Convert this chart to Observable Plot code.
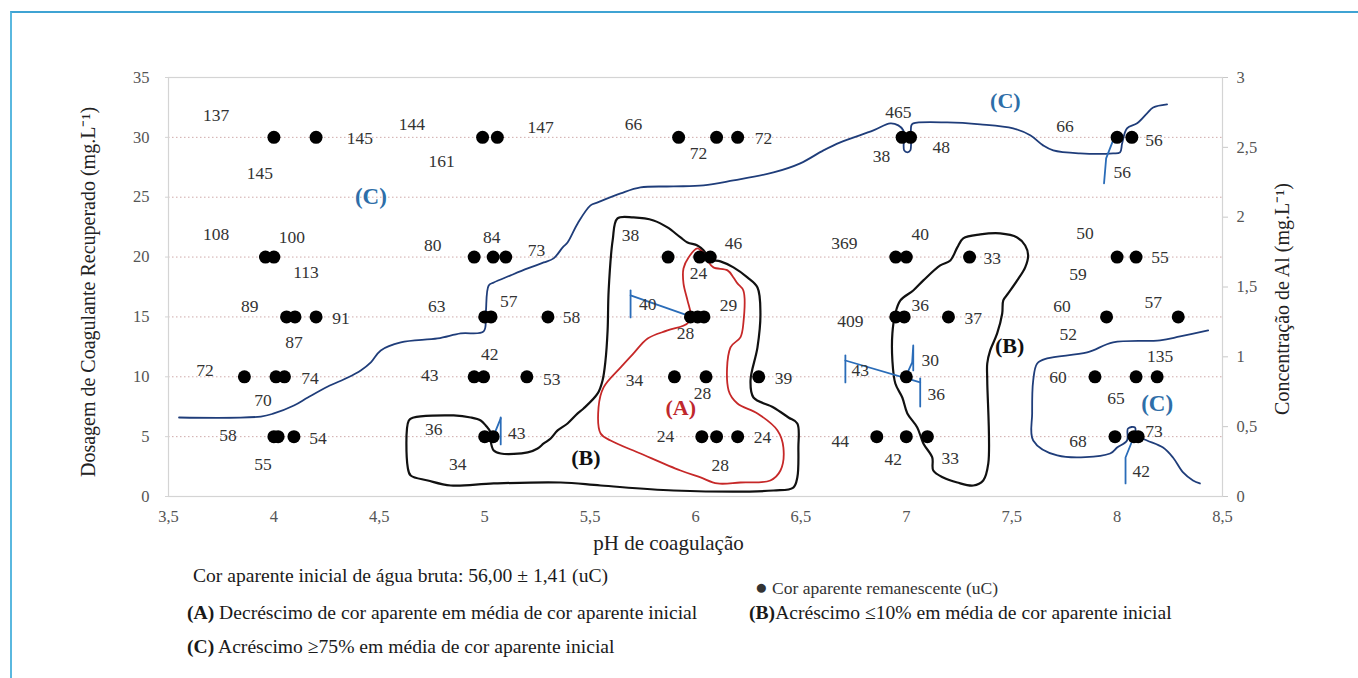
<!DOCTYPE html>
<html>
<head>
<meta charset="utf-8">
<script src="https://cdn.jsdelivr.net/npm/d3@7"></script>
<script src="https://cdn.jsdelivr.net/npm/@observablehq/plot@0.6"></script>
<style>
  html, body { margin: 0; padding: 0; background: #fff; }
  #page { position: relative; width: 1358px; height: 678px; overflow: hidden; font-family: "Liberation Serif", "DejaVu Serif", serif; }
  #box { position: absolute; left: 10px; top: 11px; width: 1400px; height: 700px; border-left: 2px solid #5ab8df; border-top: 2px solid #3fa3d3; }
  #chart { position: absolute; left: 0; top: 0; }
  .note { position: absolute; color: #1a1a1a; white-space: nowrap; font-size: 19.6px; }
  .note b { font-weight: bold; }
</style>
</head>
<body>
<div id="page">
  <div id="box"></div>
  <div id="chart"></div>
  <div class="note" style="left:193px; top:565px;">Cor aparente inicial de água bruta: 56,00 ± 1,41 (uC)</div>
  <div class="note" style="left:755px; top:575px; font-size:17.5px; color:#333;"><span style="font-size:21px;">●</span> Cor aparente remanescente (uC)</div>
  <div class="note" style="left:187px; top:602px;"><b>(A)</b> Decréscimo de cor aparente em média de cor aparente inicial</div>
  <div class="note" style="left:749px; top:602px;"><b>(B)</b>Acréscimo ≤10% em média de cor aparente inicial</div>
  <div class="note" style="left:187px; top:636px;"><b>(C)</b> Acréscimo ≥75% em média de cor aparente inicial</div>
</div>
<script>
// pH positions of the measured points, one list per coagulant dose (mg/L)
const phAtDose5  = [4.0, 4.02, 4.095, 5.0, 5.04, 6.03, 6.1, 6.2, 6.86, 7.0, 7.1, 7.99, 8.08, 8.1];
const phAtDose10 = [3.86, 4.01, 4.05, 4.95, 4.995, 5.2, 5.9, 6.05, 6.3, 7.0, 7.895, 8.09, 8.19];
const phAtDose15 = [4.06, 4.1, 4.2, 5.0, 5.03, 5.3, 5.976, 6.01, 6.04, 6.95, 6.99, 7.2, 7.95, 8.29];
const phAtDose20 = [3.96, 4.0, 4.95, 5.04, 5.1, 5.87, 6.02, 6.07, 6.95, 7.0, 7.3, 8.0, 8.09];
const phAtDose30 = [4.0, 4.2, 4.99, 5.06, 5.92, 6.1, 6.2, 6.98, 7.02, 8.0, 8.07];

// Remaining apparent colour (uC) annotations: value, pH, dose
const colourValues = ["137","145","145","144","147","161","66","72","72","465","38","48","66","56","56",
  "108","100","113","80","84","73","38","46","24","369","40","33","50","55","59",
  "89","91","87","63","57","58","40","29","28","409","36","37","60","57","52",
  "72","74","70","43","42","53","34","28","39","43","30","36","60","135","65",
  "58","54","55","36","43","34","24","24","28","44","42","33","68","73","42"];
const colourPH = [3.726,4.408,3.934,4.654,5.265,4.796,5.706,6.014,6.322,6.962,6.882,7.166,7.753,8.175,8.024,
  3.726,4.085,4.152,4.754,5.033,5.246,5.692,6.18,6.014,6.706,7.066,7.408,7.848,8.204,7.815,
  3.886,4.318,4.095,4.773,5.114,5.412,5.773,6.156,5.953,6.735,7.066,7.318,7.739,8.171,7.768,
  3.673,4.171,3.948,4.739,5.024,5.318,5.711,6.033,6.417,6.782,7.114,7.142,7.72,8.204,7.995,
  3.782,4.209,3.948,4.758,5.152,4.872,5.858,6.318,6.118,6.687,6.938,7.209,7.815,8.175,8.114];
const colourDose = [31.84,29.92,26.99,31.08,30.83,27.99,31.08,28.66,29.92,32.09,28.41,29.16,30.92,29.75,27.07,
  21.89,21.64,18.72,20.97,21.64,20.56,21.81,21.14,18.63,21.14,21.89,19.89,21.98,19.97,18.55,
  15.88,14.87,12.87,15.88,16.29,14.96,16.04,15.96,13.62,14.62,15.96,14.87,15.88,16.21,13.54,
  10.53,9.86,8.02,10.11,11.87,9.78,9.69,8.61,9.86,10.53,11.36,8.52,9.94,11.7,8.19,
  5.1,4.85,2.67,5.6,5.26,2.67,5.01,4.93,2.59,4.6,3.09,3.18,4.6,5.43,2.09];

// Region outlines as [pH, dose] vertices
const regionA = [[6.009,20.72],[5.967,19.97],[5.943,19.05],[5.943,17.8],[5.962,16.38],[5.976,15.29],[5.962,14.46],
  [5.867,13.87],[5.773,13.2],[5.706,11.95],[5.645,10.78],[5.564,9.11],[5.54,7.44],[5.55,5.26],[5.597,4.68],
  [5.739,3.59],[5.929,2.17],[6.024,1.59],[6.104,1.09],[6.213,1.17],[6.355,1.34],[6.403,2.17],[6.417,4.09],
  [6.389,5.52],[6.294,6.94],[6.199,7.77],[6.157,8.86],[6.166,12.45],[6.213,13.29],[6.227,14.46],[6.227,17.21],
  [6.199,17.8],[6.18,18.3],[6.152,18.89],[6.085,19.14],[6.057,19.72],[6.038,20.31]];
const regionB1 = [[4.663,6.6],[4.853,6.77],[4.934,6.6],[4.981,6.35],[5.005,5.93],[5.028,5.35],[5.028,4.68],
  [5.043,3.84],[5.076,3.59],[5.204,3.68],[5.251,4.01],[5.28,4.43],[5.313,4.85],[5.346,5.52],[5.393,6.1],
  [5.441,6.94],[5.469,7.35],[5.536,8.61],[5.559,9.69],[5.573,11.36],[5.583,13.87],[5.588,17.21],[5.607,21.39],
  [5.63,23.23],[5.706,23.31],[5.801,23.06],[5.867,22.48],[5.929,21.64],[5.962,21.22],[6.009,20.97],[6.038,20.56],
  [6.071,19.8],[6.118,19.64],[6.18,19.14],[6.246,18.3],[6.294,17.46],[6.308,15.29],[6.294,12.45],[6.261,9.69],
  [6.275,8.27],[6.37,7.44],[6.441,6.6],[6.483,6.1],[6.488,4.09],[6.483,1.59],[6.464,0.75],[6.37,0.5],
  [5.896,0.5],[5.55,0.92],[5.36,1.17],[5.043,1.09],[4.839,0.92],[4.73,1.34],[4.649,1.75],[4.635,2.42],[4.64,6.35]];
const regionB2 = [[7.27,21.56],[7.351,21.89],[7.445,21.98],[7.526,21.64],[7.564,20.97],[7.578,20.14],[7.564,19.14],
  [7.526,18.05],[7.483,16.96],[7.46,16.38],[7.455,15.29],[7.431,13.62],[7.398,12.2],[7.384,11.11],[7.384,9.69],
  [7.389,2.76],[7.365,1.34],[7.318,0.92],[7.242,1.17],[7.175,1.59],[7.128,2.17],[7.123,3.26],[7.081,4.43],
  [7.052,5.77],[7.005,6.94],[6.981,8.27],[6.948,9.44],[6.934,11.36],[6.934,13.62],[6.948,15.29],[6.972,16.38],
  [7.033,17.21],[7.081,18.05],[7.161,19.3],[7.209,19.72],[7.242,20.81]];
const boundaryC1 = [[3.55,6.6],[3.938,6.68],[4.0,6.94],[4.095,7.6],[4.161,8.27],[4.256,9.19],[4.351,9.94],[4.412,10.53],
  [4.46,11.2],[4.507,12.2],[4.602,12.87],[4.777,13.2],[4.886,13.62],[4.995,13.79],[5.005,15.29],[5.019,17.63],
  [5.043,17.88],[5.123,18.47],[5.204,19.05],[5.28,19.55],[5.327,19.89],[5.37,20.81],[5.393,21.22],[5.441,22.81],
  [5.502,24.32],[5.536,24.57],[5.645,25.32],[5.739,25.82],[5.896,25.9],[6.038,25.99],[6.18,26.41],[6.37,27.07],
  [6.497,27.83],[6.607,28.91],[6.687,29.58],[6.844,30.58],[6.924,31.17],[6.962,31.0],[6.986,30.58],[6.99,28.91],
  [7.005,28.75],[7.019,28.91],[7.024,31.0],[7.033,31.17],[7.194,31.25],[7.351,31.09],[7.507,30.75],[7.588,30.17],
  [7.649,29.33],[7.697,28.91],[7.824,28.66],[7.981,28.66],[8.014,28.75],[8.024,29.5],[8.047,30.75],[8.095,31.17],
  [8.142,32.0],[8.171,32.5],[8.237,32.76]];
const boundaryC2 = [[8.432,13.87],[8.299,13.37],[8.204,13.04],[7.981,12.87],[7.858,12.03],[7.668,11.53],[7.621,11.11],
  [7.602,9.69],[7.597,6.94],[7.602,4.68],[7.716,3.43],[7.967,3.59],[8.0,4.09],[8.047,4.68],[8.052,5.68],[8.085,5.77],
  [8.09,5.1],[8.142,4.68],[8.218,4.09],[8.265,3.26],[8.313,2.01],[8.36,1.34],[8.393,1.09]];
// Short pointer strokes
const pointers = [
  [[7.938,26.16],[7.948,28.24],[7.981,29.75],[8.0,30.17]],
  [[8.04,1.09],[8.04,3.26],[8.078,4.93]],
  [[5.692,17.21],[5.692,14.96]],
  [[5.692,16.8],[5.976,15.04]],
  [[6.711,11.78],[6.711,9.53]],
  [[6.711,11.36],[7.066,9.53]],
  [[7.066,9.86],[7.066,7.52]],
  [[6.995,9.94],[7.028,11.2],[7.033,12.62],[7.033,10.53]],
  [[5.043,5.1],[5.076,6.52]],
  [[5.076,6.6],[5.076,4.35]]
];

// Axis ticks
const phTicks = [3.5, 4, 4.5, 5, 5.5, 6, 6.5, 7, 7.5, 8, 8.5];
const doseTicks = [0, 5, 10, 15, 20, 25, 30, 35];
const gridDoses = [5, 10, 15, 20, 25, 30];
const alTicks = [0, 0.5, 1, 1.5, 2, 2.5, 3];
const alMax = 3, doseMax = 35;

const comma = d => String(d).replace(".", ",");

const points = [
  ...phAtDose5.map(p => ({ph: p, dose: 5})),
  ...phAtDose10.map(p => ({ph: p, dose: 10})),
  ...phAtDose15.map(p => ({ph: p, dose: 15})),
  ...phAtDose20.map(p => ({ph: p, dose: 20})),
  ...phAtDose30.map(p => ({ph: p, dose: 30}))
];
const annotations = colourValues.map((v, i) => ({text: v, ph: colourPH[i], dose: colourDose[i]}));

const regionLabels = [
  {text: "(A)", ph: 5.93, dose: 7.4, color: "#c0282d", font: "Liberation Serif", size: 22},
  {text: "(B)", ph: 5.48, dose: 3.26, color: "#111", font: "Liberation Serif", size: 22},
  {text: "(B)", ph: 7.49, dose: 12.6, color: "#111", font: "Liberation Serif", size: 22},
  {text: "(C)", ph: 4.46, dose: 25.07, color: "#2e6ea8", font: "Open Sans", size: 23},
  {text: "(C)", ph: 7.47, dose: 33.0, color: "#2e6ea8", font: "Liberation Serif", size: 22},
  {text: "(C)", ph: 8.19, dose: 7.77, color: "#2e6ea8", font: "Open Sans", size: 23}
];

const chart = Plot.plot({
  width: 1358,
  height: 560,
  marginLeft: 168,
  marginRight: 136,
  marginTop: 77,
  marginBottom: 64,
  style: {fontFamily: "Liberation Serif", fontSize: "16.5px", color: "#404040", background: "transparent"},
  x: {domain: [3.5, 8.5]},
  y: {domain: [0, doseMax]},
  marks: [
    Plot.ruleY(gridDoses, {stroke: "#c79b9b", strokeOpacity: 0.85, strokeDasharray: "1.5,2.5"}),
    Plot.frame({stroke: "#d4d4d4", strokeWidth: 1.2}),
    Plot.axisX({ticks: phTicks, tickFormat: comma, tickSize: 0, tickPadding: 14, fill: "#555", label: null}),
    Plot.axisY({ticks: doseTicks, tickFormat: d => String(d), tickSize: 3, tickPadding: 16, stroke: "#d4d4d4", fill: "#555", label: null}),
    Plot.axisY({anchor: "right", ticks: alTicks.map(v => v * doseMax / alMax), tickFormat: d => comma(+(d * alMax / doseMax).toFixed(1)), tickSize: 5, tickPadding: 9, stroke: "#c8c8c8", fill: "#555", label: null}),
    Plot.text(["pH de coagulação"], {frameAnchor: "bottom", textAnchor: "middle", dx: -27, dy: 53, fontSize: 21, fill: "#222"}),
    Plot.text(["Dosagem de Coagulante Recuperado (mg.L⁻¹)"], {frameAnchor: "left", textAnchor: "middle", dx: -80, dy: 5, rotate: -90, fontSize: 20, fill: "#222"}),
    Plot.text(["Concentração de Al (mg.L⁻¹)"], {frameAnchor: "right", textAnchor: "middle", dx: 60, dy: 12, rotate: -90, fontSize: 20, fill: "#222"}),
    Plot.line(regionB1, {curve: "catmull-rom-closed", stroke: "#111", strokeWidth: 2.2}),
    Plot.line(regionB2, {curve: "catmull-rom-closed", stroke: "#111", strokeWidth: 2.2}),
    Plot.line(regionA, {curve: "catmull-rom-closed", stroke: "#c62828", strokeWidth: 1.8}),
    Plot.line(boundaryC1, {curve: "catmull-rom", stroke: "#1f3d7a", strokeWidth: 1.8}),
    Plot.line(boundaryC2, {curve: "catmull-rom", stroke: "#1f3d7a", strokeWidth: 1.8}),
    ...pointers.map(seg => Plot.line(seg, {stroke: "#2a6cb8", strokeWidth: 1.8})),
    Plot.dot(points, {x: "ph", y: "dose", r: 6.5, fill: "#000", stroke: null}),
    Plot.text(annotations, {x: "ph", y: "dose", text: "text", fontSize: 17.5, fill: "#333"}),
    Plot.text(regionLabels, {x: "ph", y: "dose", text: "text", fill: d => d.color, fontFamily: d => d.font, fontWeight: "bold", fontSize: d => d.size})
  ]
});
document.getElementById("chart").appendChild(chart);
</script>
</body>
</html>
